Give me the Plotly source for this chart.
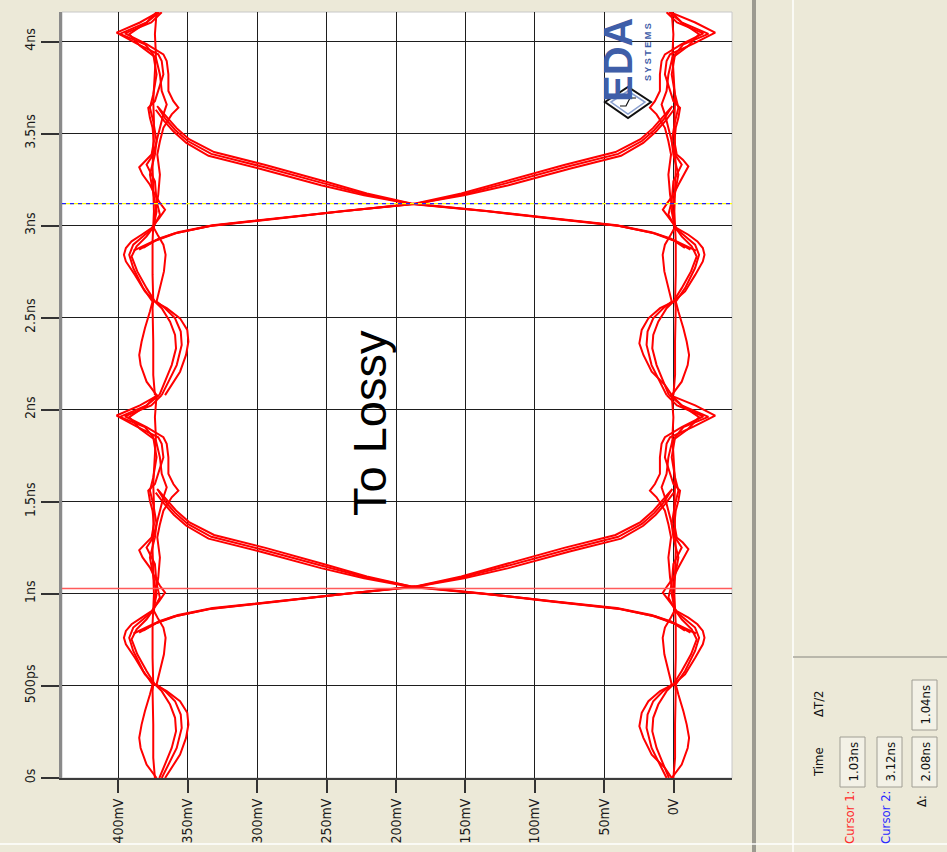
import plotly.graph_objects as go

# ---------------- data (time in ns, voltage in mV) ----------------
PERIOD = 2.08            # from cursor readout (Δ = 2.08ns)
CURSOR_T = [1.03, 3.12]  # Cursor 1, Cursor 2
V_TICKS = [0, 50, 100, 150, 200, 250, 300, 350, 400]
V_LABELS = ["0V", "50mV", "100mV", "150mV", "200mV", "250mV", "300mV", "350mV", "400mV"]
T_TICKS = [0, 0.5, 1, 1.5, 2, 2.5, 3, 3.5, 4]
T_LABELS = ["0s", "500ps", "1ns", "1.5ns", "2ns", "2.5ns", "3ns", "3.5ns", "4ns"]

# high-level (logic 1) traces, one period
H_MAIN_T = [0, 0.109, 0.29, 0.472, 0.508, 0.653, 0.835, 0.907, 0.998, 1.125, 1.234, 1.343, 1.488, 1.597, 1.742, 1.851, 1.96, 2.08]
H_MAIN_V = [373.6, 374.8, 374.8, 375.3, 374.8, 375.3, 375.3, 374.8, 374.3, 374.8, 375.3, 374.8, 374.3, 374.8, 373.6, 372.9, 373.6, 372.4]

H_A_T = [0, 0.054, 0.127, 0.218, 0.29, 0.354, 0.417, 0.472, 0.508, 0.563, 0.653, 0.726, 0.762, 0.799, 0.835, 0.871, 0.907,
         0.962, 1.007, 1.044, 1.089, 1.143, 1.198, 1.238, 1.27, 1.307, 1.379, 1.452, 1.506, 1.561, 1.597, 1.652, 1.742,
         1.815, 1.851, 1.909, 1.969, 2.024, 2.08]
H_A_V = [366.3, 361.5, 355.5, 351.2, 349.5, 350.3, 355.5, 365.1, 373.6, 380.8, 388.0, 394.5, 395.9, 394.5, 390.4, 383.2, 376.0,
         370.4, 366.3, 370.0, 373.6, 377.2, 382.5, 384.9, 380.8, 376.0, 374.3, 375.3, 377.2, 378.4, 373.6, 371.2, 367.5,
         368.7, 371.2, 386.6, 401.2, 384.4, 371.2]

H_B_T = [0, 0.073, 0.163, 0.272, 0.345, 0.417, 0.472, 0.508, 0.581, 0.672, 0.762, 0.817, 0.871, 0.907, 0.98, 1.089, 1.198,
         1.307, 1.379, 1.452, 1.525, 1.561, 1.597, 1.652, 1.742, 1.815, 1.851, 1.906, 1.965, 2.024, 2.08]
H_B_V = [368.7, 363.9, 357.9, 354.3, 355.0, 359.1, 366.3, 372.4, 370.0, 367.1, 365.9, 367.5, 371.7, 374.3, 373.6, 371.2, 370.0,
         371.9, 370.0, 367.5, 361.5, 356.7, 360.3, 363.9, 363.9, 365.1, 367.5, 379.6, 395.2, 376.2, 368.7]

H_C_T = [0, 0.073, 0.163, 0.218, 0.29, 0.363, 0.454, 0.508, 0.581, 0.69, 0.762, 0.817, 0.871, 0.907, 0.998, 1.089, 1.198,
         1.307, 1.379, 1.488, 1.561, 1.633, 1.742, 1.851, 1.906, 1.962, 2.024, 2.08]
H_C_V = [372.4, 379.6, 383.9, 384.9, 383.2, 380.8, 377.2, 375.3, 382.0, 389.2, 392.1, 389.2, 380.8, 374.8, 372.4, 374.8, 377.2,
         373.6, 372.4, 374.8, 377.2, 374.8, 372.4, 374.8, 380.8, 398.8, 379.6, 372.4]

H_D_T = [0, 0.073, 0.163, 0.254, 0.327, 0.399, 0.472, 0.508, 0.581, 0.672, 0.753, 0.808, 0.862, 0.907, 0.98, 1.053, 1.162,
         1.252, 1.307, 1.416, 1.525, 1.579, 1.652, 1.742, 1.833, 1.897, 1.96, 2.024, 2.08]
H_D_V = [370.4, 366.3, 361.5, 358.4, 359.1, 362.7, 368.7, 373.6, 379.6, 386.3, 390.4, 386.8, 379.6, 375.3, 370.0, 372.4, 373.6,
         379.6, 374.8, 371.2, 367.5, 365.1, 368.7, 370.0, 372.9, 384.4, 392.1, 379.6, 370.4]

# low-level (logic 0) traces, one period
L_MAIN_T = [0, 0.109, 0.29, 0.472, 0.508, 0.653, 0.835, 0.907, 0.998, 1.125, 1.234, 1.343, 1.488, 1.597, 1.742, 1.851, 1.96, 2.08]
L_MAIN_V = [0.3, -0.9, -0.9, -1.4, -0.9, -1.4, -1.4, -0.9, -0.4, -0.9, -1.4, -0.9, -0.4, -0.9, 0.3, 1.0, 0.3, 1.5]

L_A_T = [0, 0.054, 0.127, 0.218, 0.281, 0.354, 0.417, 0.472, 0.508, 0.563, 0.653, 0.726, 0.762, 0.799, 0.835, 0.871, 0.907,
         0.962, 1.007, 1.044, 1.089, 1.143, 1.198, 1.243, 1.279, 1.307, 1.379, 1.452, 1.506, 1.561, 1.597, 1.652, 1.742,
         1.815, 1.851, 1.909, 1.969, 2.024, 2.08]
L_A_V = [1.5, 6.3, 15.9, 21.9, 24.8, 23.1, 18.3, 9.9, 0.3, -8.1, -15.4, -20.9, -22.1, -20.9, -17.0, -10.5, -2.1,
         3.1, 7.9, 4.6, 0.3, -3.3, -7.4, -10.5, -6.5, -2.1, -0.4, -1.4, -3.3, -4.5, 0.3, 2.7, 6.4,
         5.2, 2.7, -14.2, -29.8, -15.4, 2.7]

L_B_T = [0, 0.073, 0.163, 0.272, 0.345, 0.417, 0.472, 0.508, 0.581, 0.672, 0.762, 0.817, 0.871, 0.907, 0.98, 1.089, 1.198,
         1.307, 1.379, 1.452, 1.525, 1.561, 1.597, 1.652, 1.742, 1.815, 1.851, 1.906, 1.965, 2.024, 2.08]
L_B_V = [5.2, 10.0, 16.0, 19.6, 18.9, 14.8, 7.6, 1.5, 3.9, 6.8, 8.0, 6.4, 2.2, -0.4, 0.3, 2.7, 3.9,
         2.0, 3.9, 6.4, 12.4, 17.2, 13.6, 10.0, 10.0, 8.8, 6.4, -5.7, -21.3, -2.3, 5.2]

L_C_T = [0, 0.073, 0.163, 0.218, 0.29, 0.363, 0.454, 0.508, 0.581, 0.69, 0.762, 0.817, 0.871, 0.907, 0.998, 1.089, 1.198,
         1.307, 1.379, 1.488, 1.561, 1.633, 1.742, 1.851, 1.906, 1.962, 2.024, 2.08]
L_C_V = [1.5, -5.7, -10.0, -11.0, -9.3, -6.9, -3.3, -1.4, -8.1, -15.3, -18.2, -15.3, -6.9, -0.9, 1.5, -0.9, -3.3,
         0.3, 1.5, -0.9, -3.3, -0.9, 1.5, -0.9, -6.9, -24.9, -5.7, 1.5]

L_D_T = [0, 0.073, 0.163, 0.254, 0.327, 0.399, 0.472, 0.508, 0.581, 0.672, 0.753, 0.808, 0.862, 0.907, 0.98, 1.053, 1.162,
         1.252, 1.307, 1.416, 1.525, 1.579, 1.652, 1.742, 1.833, 1.897, 1.96, 2.024, 2.08]
L_D_V = [3.5, 7.6, 12.4, 15.5, 14.8, 11.2, 5.2, 0.3, -5.7, -12.4, -16.5, -12.9, -5.7, -1.4, 3.9, 1.5, 0.3,
         -5.7, -0.9, 2.7, 6.4, 8.8, 5.2, 3.9, 1.0, -10.5, -18.2, -5.7, 3.5]

# transitions around the crossing, one period
R1_T = [0.79, 0.84, 0.88, 0.92, 0.96, 1.00, 1.04, 1.09, 1.15, 1.24, 1.31, 1.38, 1.44, 1.50, 1.56]
R1_V = [-12, 0, 15, 40, 88, 135, 189, 222, 252, 296, 333, 350, 359, 366, 371]
R2_T = [0.80, 0.85, 0.885, 0.923, 0.962, 1.002, 1.041, 1.095, 1.16, 1.25, 1.32, 1.39, 1.45, 1.51, 1.57]
R2_V = [-8, 2, 16, 41, 89, 137, 189, 221, 251, 294, 331, 349, 358, 365, 372]
R3_T = [0.785, 0.835, 0.877, 0.918, 0.958, 0.998, 1.038, 1.085, 1.14, 1.23, 1.30, 1.37, 1.43, 1.49, 1.55]
R3_V = [-16, -2, 13, 39, 87, 134, 189, 223, 254, 298, 335, 351, 360, 367, 373]
F1_T = [0.79, 0.84, 0.88, 0.92, 0.96, 1.00, 1.04, 1.09, 1.15, 1.24, 1.31, 1.38, 1.44, 1.50, 1.56]
F1_V = [385, 373, 358, 333, 285, 238, 185, 152, 121, 77, 40, 23, 14, 7, 2]
F2_T = [0.80, 0.85, 0.885, 0.923, 0.962, 1.002, 1.041, 1.095, 1.16, 1.25, 1.32, 1.39, 1.45, 1.51, 1.57]
F2_V = [382, 371, 357, 332, 284, 236, 186, 153, 122, 79, 42, 24, 15, 8, 1]
F3_T = [0.785, 0.835, 0.877, 0.918, 0.958, 0.998, 1.038, 1.085, 1.14, 1.23, 1.30, 1.37, 1.43, 1.49, 1.55]
F3_V = [389, 375, 360, 334, 286, 239, 187, 151, 119, 75, 38, 22, 13, 6, 0]

# ---------------- build ----------------
LEVEL_SETS = [(H_MAIN_T, H_MAIN_V), (H_A_T, H_A_V), (H_B_T, H_B_V), (H_C_T, H_C_V), (H_D_T, H_D_V),
              (L_MAIN_T, L_MAIN_V), (L_A_T, L_A_V), (L_B_T, L_B_V), (L_C_T, L_C_V), (L_D_T, L_D_V)]
EDGE_SETS = [(R1_T, R1_V), (R2_T, R2_V), (R3_T, R3_V), (F1_T, F1_V), (F2_T, F2_V), (F3_T, F3_V)]


def fold(sets, n_periods=2):
    xs, ys = [], []
    for k in range(n_periods):
        for ts, vs in sets:
            xs += list(vs) + [None]
            ys += [t + k * PERIOD for t in ts] + [None]
    return xs, ys


W, H = 947, 852
L, R, T, B = 62, 215, 12, 74
PX0, PX1, PY0, PY1 = L, W - R, T, H - B


def px(x):
    return (x - PX0) / (PX1 - PX0)


def py(y):
    return (PY1 - y) / (PY1 - PY0)


fig = go.Figure()
lx, ly = fold(LEVEL_SETS)
ex, ey = fold(EDGE_SETS)
for xs, ys in [(lx, ly), (ex, ey)]:
    fig.add_trace(go.Scatter(x=xs, y=ys, mode="lines", line=dict(color="#ff0000", width=2),
                             hoverinfo="skip", showlegend=False, connectgaps=False))

FONT = "Liberation Sans Narrow, DejaVu Sans Condensed, Roboto Condensed, Liberation Sans, Arial, sans-serif"

fig.update_layout(
    width=W, height=H,
    margin=dict(l=L, r=R, t=T, b=B, pad=0, autoexpand=False),
    paper_bgcolor="#ECE9D8", plot_bgcolor="#ffffff",
    showlegend=False,
    font=dict(family=FONT, size=14, color="#1a1a1a"),
    xaxis=dict(range=[440.5, -41.9], tickvals=V_TICKS, ticktext=V_LABELS, tickangle=-90, automargin=False,
               showgrid=True, gridcolor="#1e1e1e", gridwidth=1.4, zeroline=False,
               ticks="outside", ticklen=13, tickwidth=1.5, tickcolor="#333333",
               showline=True, linecolor="#3c3c3c", linewidth=2,
               tickfont=dict(family=FONT, size=14, color="#1a1a1a")),
    yaxis=dict(range=[0, 4.161], tickvals=T_TICKS, ticktext=T_LABELS, tickangle=-90, automargin=False,
               showgrid=True, gridcolor="#1e1e1e", gridwidth=1.4, zeroline=False,
               ticks="outside", ticklen=18, tickwidth=1.5, tickcolor="#333333",
               showline=True, linecolor="#8a8a8a", linewidth=3,
               tickfont=dict(family=FONT, size=14, color="#1a1a1a")),
)

shapes = []
shapes.append(dict(type="rect", xref="paper", yref="paper", x0=0, x1=1, y0=0, y1=1,
                   line=dict(color="#c8c8c8", width=1), fillcolor="rgba(0,0,0,0)", layer="below"))
shapes.append(dict(type="line", xref="paper", yref="y", x0=0, x1=1, y0=CURSOR_T[0], y1=CURSOR_T[0],
                   line=dict(color="#ff5a5a", width=1.5)))
shapes.append(dict(type="line", xref="paper", yref="y", x0=0, x1=1, y0=CURSOR_T[1], y1=CURSOR_T[1],
                   line=dict(color="#ffff00", width=1.2)))
shapes.append(dict(type="line", xref="paper", yref="y", x0=0, x1=1, y0=CURSOR_T[1], y1=CURSOR_T[1],
                   line=dict(color="#2020ff", width=1.2, dash="4px,4px")))
shapes.append(dict(type="line", xref="paper", yref="paper", x0=px(754), x1=px(754), y0=py(0), y1=py(852),
                   line=dict(color="#9c9a90", width=4)))
shapes.append(dict(type="line", xref="paper", yref="paper", x0=px(793), x1=px(793), y0=py(0), y1=py(852),
                   line=dict(color="#ffffff", width=1.5)))
shapes.append(dict(type="line", xref="paper", yref="paper", x0=px(793), x1=px(947), y0=py(657), y1=py(657),
                   line=dict(color="#a8a69c", width=1.5)))
shapes.append(dict(type="line", xref="paper", yref="paper", x0=px(0), x1=px(947), y0=py(844), y1=py(844),
                   line=dict(color="#ffffff", width=1.5)))
BOXES = [(840, 865, 737, 787, "1.03ns"), (877, 902, 737, 787, "3.12ns"),
         (912, 937, 737, 787, "2.08ns"), (912, 937, 680, 730, "1.04ns")]
for x0, x1, y0, y1, _ in BOXES:
    shapes.append(dict(type="rect", xref="paper", yref="paper", x0=px(x0), x1=px(x1), y0=py(y1), y1=py(y0),
                       line=dict(color="#a09e94", width=1), fillcolor="#f3f1e6"))
shapes.append(dict(type="path", xref="paper", yref="paper",
                   path="M %f %f L %f %f L %f %f L %f %f Z" % (px(605), py(102), px(628), py(87), px(651), py(102), px(628), py(118)),
                   line=dict(color="#111111", width=2), fillcolor="#ffffff"))
shapes.append(dict(type="path", xref="paper", yref="paper",
                   path="M %f %f L %f %f L %f %f L %f %f Z" % (px(611), py(102), px(628), py(91), px(645), py(102), px(628), py(114)),
                   line=dict(color="#8aa0d0", width=1.5), fillcolor="rgba(0,0,0,0)"))
shapes.append(dict(type="path", xref="paper", yref="paper",
                   path="M %f %f L %f %f L %f %f L %f %f" % (px(620), py(106), px(626), py(106), px(630), py(98), px(636), py(98)),
                   line=dict(color="#111111", width=1.2)))
fig.update_layout(shapes=shapes)

ann = []


def note(text, x, y, size, color, family=FONT):
    ann.append(dict(text=text, x=px(x), y=py(y), xref="paper", yref="paper", showarrow=False,
                    xanchor="center", yanchor="middle", textangle=-90,
                    font=dict(family=family, size=size, color=color)))


note("To Lossy", 370, 423, 47, "#000000", "Liberation Sans, Arial, sans-serif")
note("<b>EDA</b>", 618, 60, 40, "#3f5ea8", "Liberation Sans Narrow, Liberation Sans, Arial")
note("<b>S Y S T E M S</b>", 648, 52, 9, "#3f5ea8", "Liberation Sans, Arial")
LABELS = [("Time", 818, 762, "#111111"), ("ΔT/2", 818, 704, "#111111"),
          ("Cursor 1:", 849, 817, "#ff2a2a"), ("Cursor 2:", 885, 817, "#2a2aff"), ("Δ:", 921, 801, "#111111")]
for txt, x, y, c in LABELS:
    note(txt, x, y, 13, c)
for x0, x1, y0, y1, txt in BOXES:
    note(txt, (x0 + x1) / 2, (y0 + y1) / 2, 13, "#111111")
fig.update_layout(annotations=ann)

fig.write_html("out.html", config={"displayModeBar": False},
               post_script="document.body.style.margin='0';document.body.style.background='#ECE9D8';")
